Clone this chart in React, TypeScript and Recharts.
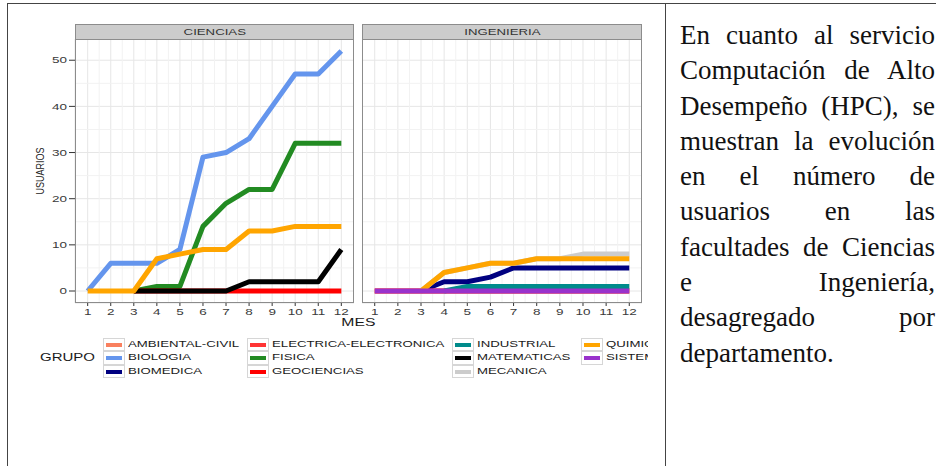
import { CartesianGrid, Line, LineChart, ReferenceLine, XAxis, YAxis } from 'recharts';

// months on the x axis
const MESES = [1, 2, 3, 4, 5, 6, 7, 8, 9, 10, 11, 12];

// CIENCIAS panel
const CIENCIAS_BIOLOGIA = [0, 6, 6, 6, 9, 29, 30, 33, 40, 47, 47, 52];
const CIENCIAS_FISICA = [null, null, 0, 1, 1, 14, 19, 22, 22, 32, 32, 32];
const CIENCIAS_GEOCIENCIAS = [null, null, 0, 0, 0, 0, 0, 0, 0, 0, 0, 0];
const CIENCIAS_MATEMATICAS = [null, null, 0, 0, 0, 0, 0, 2, 2, 2, 2, 9];
const CIENCIAS_QUIMICA = [0, 0, 0, 7, 8, 9, 9, 13, 13, 14, 14, 14];

// INGENIERIA panel
const ING_AMBIENTAL = [0, 0, 0, 0, 0, 0, 0, 0, 0, 0, 0, 0];
const ING_BIOMEDICA = [null, null, 0, 2, 2, 3, 5, 5, 5, 5, 5, 5];
const ING_ELECTRICA = [0, 0, 0, 0, 0, 0, 0, 0, 0, 0, 0, 0];
const ING_INDUSTRIAL = [null, null, null, 0, 1, 1, 1, 1, 1, 1, 1, 1];
const ING_MECANICA = [null, null, 0, 4, 5, 6, 6, 7, 7, 8, 8, 8];
const ING_QUIMICA = [null, null, 0, 4, 5, 6, 6, 7, 7, 7, 7, 7];
const ING_SISTEMAS = [0, 0, 0, 0, 0, 0, 0, 0, 0, 0, 0, 0];

// axis ticks and grid
const X_TICKS = [1, 2, 3, 4, 5, 6, 7, 8, 9, 10, 11, 12];
const X_MINOR = [1.5, 2.5, 3.5, 4.5, 5.5, 6.5, 7.5, 8.5, 9.5, 10.5, 11.5];
const Y_TICKS = [0, 10, 20, 30, 40, 50];
const Y_MINOR = [5, 15, 25, 35, 45];

// legend (filled by column, 3 rows)
const GRUPOS = [
  'AMBIENTAL-CIVIL', 'BIOLOGIA', 'BIOMEDICA',
  'ELECTRICA-ELECTRONICA', 'FISICA', 'GEOCIENCIAS',
  'INDUSTRIAL', 'MATEMATICAS', 'MECANICA',
  'QUIMICA', 'SISTEMAS',
];
const COLORES: Record<string, string> = {
  'AMBIENTAL-CIVIL': '#F9805F',
  BIOLOGIA: '#6495ED',
  BIOMEDICA: '#000080',
  'ELECTRICA-ELECTRONICA': '#FF3535',
  FISICA: '#228B22',
  GEOCIENCIAS: '#FF0000',
  INDUSTRIAL: '#008B8B',
  MATEMATICAS: '#000000',
  MECANICA: '#CCCCCC',
  QUIMICA: '#FFA500',
  SISTEMAS: '#9932CC',
};

const TEXTO = [
  'En cuanto al servicio',
  'Computación de Alto',
  'Desempeño (HPC), se',
  'muestran la evolución',
  'en el número de',
  'usuarios en las',
  'facultades de Ciencias',
  'e Ingeniería,',
  'desagregado por',
  'departamento.',
];

const ciencias = MESES.map((mes, i) => ({
  mes,
  BIOLOGIA: CIENCIAS_BIOLOGIA[i],
  FISICA: CIENCIAS_FISICA[i],
  GEOCIENCIAS: CIENCIAS_GEOCIENCIAS[i],
  MATEMATICAS: CIENCIAS_MATEMATICAS[i],
  QUIMICA: CIENCIAS_QUIMICA[i],
}));

const ingenieria = MESES.map((mes, i) => ({
  mes,
  'AMBIENTAL-CIVIL': ING_AMBIENTAL[i],
  BIOMEDICA: ING_BIOMEDICA[i],
  'ELECTRICA-ELECTRONICA': ING_ELECTRICA[i],
  INDUSTRIAL: ING_INDUSTRIAL[i],
  MECANICA: ING_MECANICA[i],
  QUIMICA: ING_QUIMICA[i],
  SISTEMAS: ING_SISTEMAS[i],
}));

const FONT = '"Liberation Sans", Arial, sans-serif';
const STRETCH = 1.5; // the chart image is stretched horizontally

function XTick(props: any) {
  const { x, y, payload } = props;
  return (
    <g transform={`translate(${x},${y})`}>
      <text transform={`scale(${STRETCH},1)`} textAnchor="middle" dy="0.71em" fontSize={9} fill="#3a3a3a" fontFamily={FONT}>
        {payload.value}
      </text>
    </g>
  );
}

function YTick(props: any) {
  const { x, y, payload } = props;
  return (
    <g transform={`translate(${x},${y})`}>
      <text transform={`scale(${STRETCH},1)`} textAnchor="end" dy="0.355em" fontSize={9} fill="#3a3a3a" fontFamily={FONT}>
        {payload.value}
      </text>
    </g>
  );
}

function Panel({ data, series, showY, left, plotLeft, plotWidth, title }: {
  data: any[];
  series: string[];
  showY: boolean;
  left: number;
  plotLeft: number;
  plotWidth: number;
  title: string;
}) {
  return (
    <>
      <div style={{ position: 'absolute', left, top: 24 }}>
        <LineChart
          width={plotLeft + plotWidth - left}
          height={299}
          data={data}
          margin={{ top: 15, right: 0, bottom: 0, left: 0 }}
        >
          <CartesianGrid stroke="#E6E6E6" strokeWidth={1} />
          {X_MINOR.map((v) => (
            <ReferenceLine key={`x${v}`} x={v} stroke="#F2F2F2" strokeWidth={1} />
          ))}
          {Y_MINOR.map((v) => (
            <ReferenceLine key={`y${v}`} y={v} stroke="#F2F2F2" strokeWidth={1} />
          ))}
          <XAxis
            dataKey="mes"
            type="number"
            domain={[0.45, 12.55]}
            allowDataOverflow
            ticks={X_TICKS}
            interval={0}
            height={20}
            axisLine={false}
            tickSize={3}
            tickMargin={3}
            tickLine={{ stroke: '#333333' }}
            tick={<XTick />}
          />
          <YAxis
            hide={!showY}
            type="number"
            domain={[-2.6, 54.6]}
            allowDataOverflow
            ticks={Y_TICKS}
            interval={0}
            width={plotLeft - left}
            axisLine={false}
            tickSize={6}
            tickMargin={2}
            tickLine={{ stroke: '#333333' }}
            tick={<YTick />}
          />
          {series.map((s) => (
            <Line
              key={s}
              type="linear"
              dataKey={s}
              stroke={COLORES[s]}
              strokeWidth={5}
              strokeLinejoin="round"
              strokeLinecap="butt"
              dot={false}
              activeDot={false}
              isAnimationActive={false}
            />
          ))}
        </LineChart>
      </div>
      {/* panel border */}
      <div
        style={{
          position: 'absolute',
          left: plotLeft,
          top: 39,
          width: plotWidth,
          height: 264,
          border: '1px solid #8c8c8c',
          boxSizing: 'border-box',
          pointerEvents: 'none',
        }}
      />
      {/* facet strip */}
      <div
        style={{
          position: 'absolute',
          left: plotLeft,
          top: 24,
          width: plotWidth,
          height: 16,
          background: '#CCCCCC',
          border: '1px solid #8c8c8c',
          boxSizing: 'border-box',
          display: 'flex',
          alignItems: 'center',
          justifyContent: 'center',
        }}
      >
        <span style={{ display: 'inline-block', fontFamily: FONT, fontSize: 8.8, color: '#333', transform: `scaleX(${STRETCH})` }}>
          {title}
        </span>
      </div>
    </>
  );
}

const LEG_COL_X = [103, 247, 452, 581];
const LEG_ROW_Y = [337.5, 351, 364.5];

export default function App() {
  return (
    <div
      style={{
        position: 'absolute',
        left: 0,
        top: 0,
        width: 936,
        height: 466,
        background: '#fff',
        overflow: 'hidden',
      }}
    >
      {/* table borders */}
      <div style={{ position: 'absolute', left: 7, top: 3, width: 960, height: 1, background: '#444' }} />
      <div style={{ position: 'absolute', left: 7, top: 3, width: 1, height: 480, background: '#444' }} />
      <div style={{ position: 'absolute', left: 665, top: 3, width: 1, height: 480, background: '#444' }} />

      <Panel
        data={ciencias}
        series={['BIOLOGIA', 'FISICA', 'GEOCIENCIAS', 'MATEMATICAS', 'QUIMICA']}
        showY
        left={15}
        plotLeft={75}
        plotWidth={279}
        title="CIENCIAS"
      />
      <Panel
        data={ingenieria}
        series={['AMBIENTAL-CIVIL', 'BIOMEDICA', 'ELECTRICA-ELECTRONICA', 'INDUSTRIAL', 'MECANICA', 'QUIMICA', 'SISTEMAS']}
        showY={false}
        left={362}
        plotLeft={362}
        plotWidth={280}
        title="INGENIERIA"
      />

      {/* y title */}
      <div style={{ position: 'absolute', left: 40, top: 171, width: 0, height: 0 }}>
        <div
          style={{
            position: 'absolute',
            left: -40,
            top: -7,
            width: 80,
            textAlign: 'center',
            fontFamily: FONT,
            fontSize: 10.5,
            lineHeight: '14px',
            color: '#1a1a1a',
            transform: 'rotate(-90deg) scaleX(0.86)',
          }}
        >
          USUARIOS
        </div>
      </div>

      {/* x title */}
      <div
        style={{
          position: 'absolute',
          left: 308,
          top: 315,
          width: 100,
          textAlign: 'center',
          fontFamily: FONT,
          fontSize: 10.5,
          lineHeight: '14px',
          color: '#1a1a1a',
        }}
      >
        <span style={{ display: 'inline-block', transform: `scaleX(${STRETCH})` }}>MES</span>
      </div>

      {/* legend, cropped at the right like the reference image */}
      <div style={{ position: 'absolute', left: 0, top: 0, width: 648, height: 466, overflow: 'hidden' }}>
        <div
          style={{
            position: 'absolute',
            left: 40,
            top: 350.5,
            fontFamily: FONT,
            fontSize: 10,
            lineHeight: '14px',
            color: '#1a1a1a',
            transform: `scaleX(${STRETCH})`,
            transformOrigin: 'left center',
          }}
        >
          GRUPO
        </div>
        {GRUPOS.map((g, i) => {
          const col = Math.floor(i / 3);
          const row = i % 3;
          const x = LEG_COL_X[col];
          const y = LEG_ROW_Y[row];
          return (
            <div key={g}>
              <div
                style={{
                  position: 'absolute',
                  left: x,
                  top: y,
                  width: 22,
                  height: 13.5,
                  border: '1px solid #d6d6d6',
                  boxSizing: 'border-box',
                  background: '#fff',
                }}
              >
                <div
                  style={{
                    position: 'absolute',
                    left: 2,
                    right: 2,
                    top: 4.2,
                    height: 4,
                    background: COLORES[g],
                  }}
                />
              </div>
              <div
                style={{
                  position: 'absolute',
                  left: x + 25,
                  top: y,
                  height: 13.5,
                  lineHeight: '13.5px',
                  fontFamily: FONT,
                  fontSize: 8.8,
                  color: '#1a1a1a',
                  whiteSpace: 'nowrap',
                  transform: `scaleX(${STRETCH})`,
                  transformOrigin: 'left center',
                }}
              >
                {g}
              </div>
            </div>
          );
        })}
      </div>

      {/* text cell */}
      <div
        style={{
          position: 'absolute',
          left: 680,
          top: 18,
          width: 255,
          fontFamily: '"Liberation Serif", "Times New Roman", serif',
          fontSize: 27,
          lineHeight: '35.3px',
          color: '#111',
        }}
      >
        {TEXTO.map((t, i) => (
          <div
            key={i}
            style={{
              textAlign: 'justify',
              textAlignLast: i === TEXTO.length - 1 ? 'left' : 'justify',
            }}
          >
            {t}
          </div>
        ))}
      </div>
    </div>
  );
}
